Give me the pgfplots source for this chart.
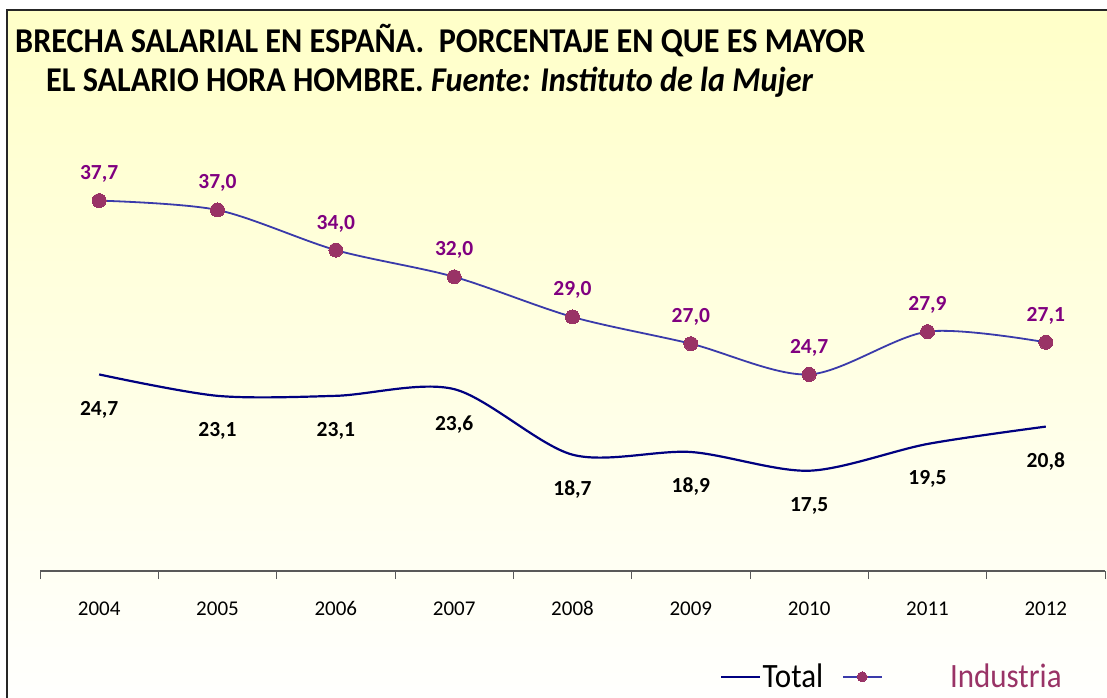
\documentclass[border=0pt]{standalone}
\usepackage{fontspec}
\setmainfont{Carlito}[Numbers=Lining]
\usepackage{pgfplots}
\pgfplotsset{compat=1.18}
\definecolor{totalc}{HTML}{000080}
\definecolor{indc}{HTML}{3A3AAA}
\definecolor{markc}{HTML}{993366}
\definecolor{labc}{HTML}{800080}
\definecolor{bgtop}{HTML}{FFFFC8}

\begin{document}
\begin{tikzpicture}[x=1pt,y=1pt]
\clip (0,0) rectangle (1107,697);
\shade[top color=bgtop, bottom color=white] (7,-20) rectangle (1130,687);
\draw[line width=2pt, black!85] (7,-20) -- (7,687) -- (1130,687);
\node[anchor=base west, inner sep=0pt, yscale=1.08, font=\fontsize{32.2}{36}\selectfont\bfseries]
  at (15,644) {BRECHA SALARIAL EN ESPAÑA.~ PORCENTAJE EN QUE ES MAYOR};
\node[anchor=base west, inner sep=0pt, yscale=1.08, font=\fontsize{32.2}{36}\selectfont\bfseries]
  at (46,605) {EL SALARIO HORA HOMBRE. \textit{Fuente: Instituto de la Mujer}};

\begin{axis}[
  at={(40pt,126pt)}, anchor=south west, scale only axis,
  width=1065pt, height=468pt,
  xmin=-0.5, xmax=8.5, ymin=10, ymax=45, clip=false,
  axis x line*=bottom, axis y line=none,
  axis line style={gray!70!black, line width=1.6pt},
  xtick={0,...,8},
  xticklabels={2004,2005,2006,2007,2008,2009,2010,2011,2012},
  minor xtick={-0.5,0.5,...,8.5},
  major tick length=0pt, minor tick length=8pt, tick align=outside,
  tick style={gray!70!black, line width=1pt},
  xticklabel style={anchor=base, yshift=-44pt, font=\fontsize{21}{24}\selectfont},
  legend columns=-1,
  legend style={at={(axis description cs:0.800,-0.226)}, anchor=center,
    draw=none, fill=none, font=\fontsize{31}{32}\selectfont,
    /tikz/every even column/.append style={column sep=17pt},
    nodes={inner sep=2pt, yscale=1.1}},
  legend image code/.code={%
    \draw[mark repeat=2, mark phase=2, #1, mark size=5pt] plot coordinates {(0pt,0pt) (19pt,0pt) (38pt,0pt)};},
  /pgf/number format/.cd, fixed, fixed zerofill, precision=1, use comma, assume math mode=true,
]
\addplot[totalc, line width=2.2pt, smooth, tension=0.5,
  nodes near coords, every node near coord/.append style={anchor=base, yshift=-41pt,
    text=black, font=\fontsize{21.5}{22}\selectfont\bfseries}]
  coordinates {(0,24.7) (1,23.1) (2,23.1) (3,23.6) (4,18.7) (5,18.9) (6,17.5) (7,19.5) (8,20.8)};
\addlegendentry{Total}
\addplot[indc, line width=1.8pt, smooth, tension=0.5,
  mark=*, mark size=7pt, mark options={fill=markc, draw=markc, line width=0pt},
  nodes near coords, every node near coord/.append style={anchor=base, yshift=21pt,
    text=labc, font=\fontsize{21.5}{22}\selectfont\bfseries}]
  coordinates {(0,37.7) (1,37.0) (2,34.0) (3,32.0) (4,29.0) (5,27.0) (6,24.7) (7,27.9) (8,27.1)};
\addlegendentry{\hspace*{66pt}\textcolor{markc}{Industria}}
\end{axis}
\end{tikzpicture}
\end{document}
